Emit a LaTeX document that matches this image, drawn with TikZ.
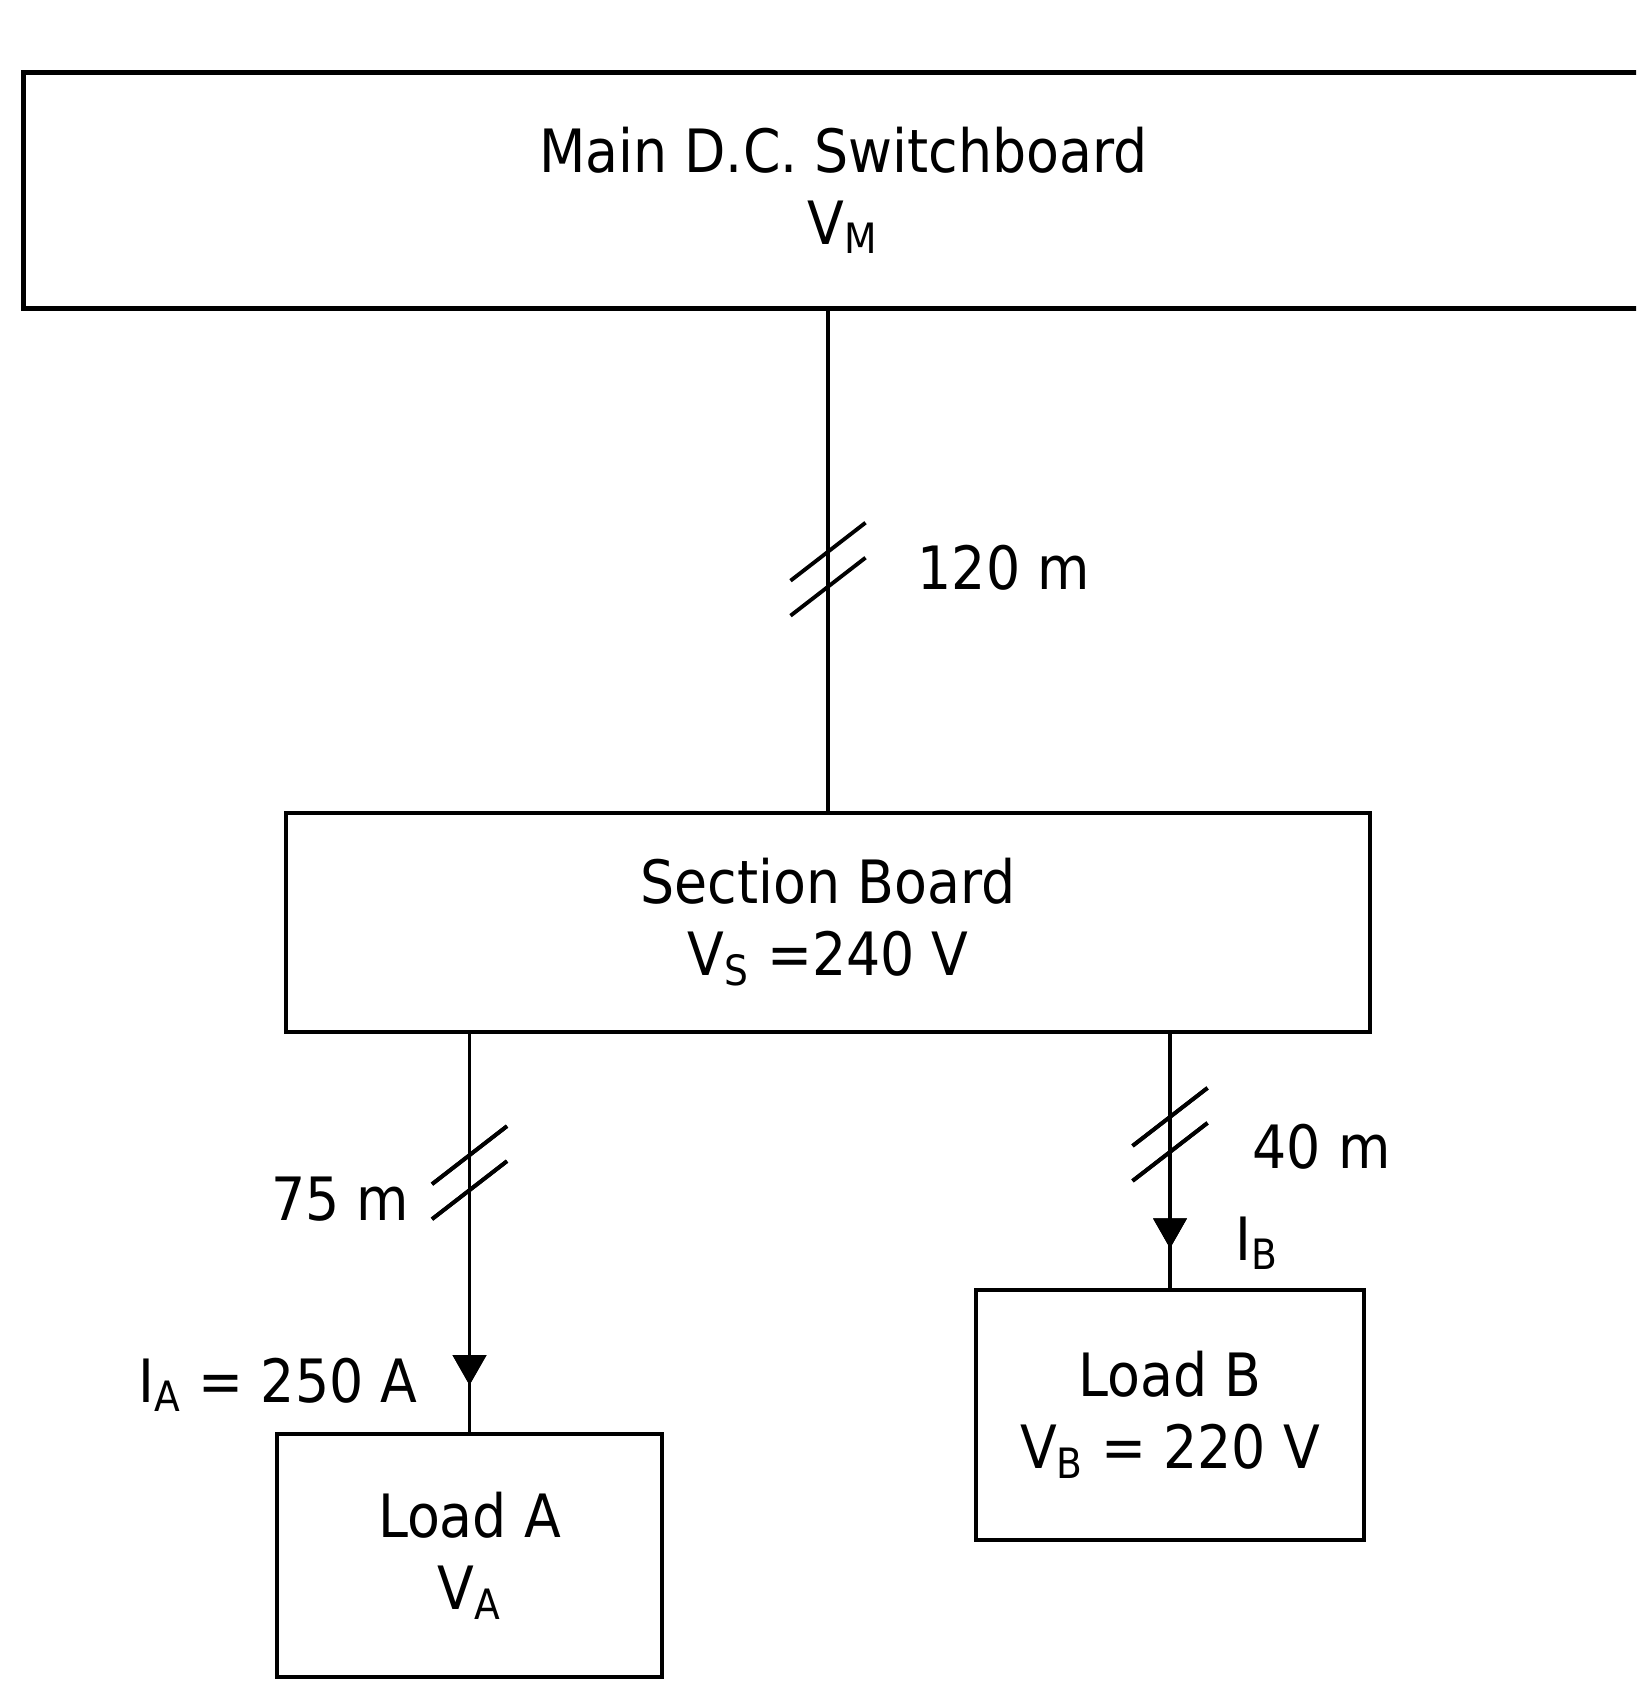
\documentclass[tikz,border=0pt]{standalone}
\usepackage{fontspec}
\setmainfont{DejaVu Sans Condensed}
\usetikzlibrary{arrows.meta, positioning, calc, decorations.markings}

\begin{document}
\begin{tikzpicture}[
  board/.style={draw, line width=1.4pt, align=center,
    font=\fontsize{17}{20.5}\selectfont, inner sep=0pt},
  wire/.style={line width=1.1pt},
  run/.style={postaction={decorate}, decoration={markings,
    mark=at position #1 with {
      \draw[line width=1.1pt] (0.115,-0.375) -- (-0.465,0.375);
      \draw[line width=1.1pt] (0.465,-0.375) -- (-0.115,0.375);}}},
  flow/.style={postaction={decorate}, decoration={markings,
    mark=at position #1 with {\arrow{Triangle[length=0.3cm, width=0.33cm]}}}},
  lbl/.style={font=\fontsize{17}{20.5}\selectfont, inner sep=0pt}
]
  \clip (0,0) rectangle (16.36,-16.81);

  % Boards
  \node[board, minimum width=16.4cm, minimum height=2.36cm,
    anchor=north west] (main) at (0.21,-0.70)
    {Main D.C. Switchboard\\V\textsubscript{M}};
  \node[board, minimum width=10.84cm, minimum height=2.19cm]
    (sec) at (8.28,-9.225) {Section Board\\V\textsubscript{S} =240 V};

  % Loads
  \node[board, minimum width=3.85cm, minimum height=2.43cm]
    (loadA) at (4.695,-15.555) {Load A\\V\textsubscript{A}};
  \node[board, minimum width=3.88cm, minimum height=2.5cm]
    (loadB) at (11.70,-14.15) {Load B\\V\textsubscript{B} = 220 V};

  % Cables
  \draw[wire, run=0.517] (sec.north |- main.south) -- (sec.north);
  \draw[wire, run=0.348, flow=0.883] (loadA.north |- sec.south) -- (loadA.north);
  \draw[wire, run=0.395, flow=0.845] (loadB.north |- sec.south) -- (loadB.north);

  % Lengths and currents
  \node[lbl, anchor=west] (lenM) at (9.17,-5.68) {120 m};
  \node[lbl, anchor=east] (lenA) at (4.10,-11.99) {75 m};
  \node[lbl, anchor=west] (lenB) at (12.52,-11.47) {40 m};
  \node[lbl, anchor=east] (curA) at (4.18,-13.85) {I\textsubscript{A} = 250 A};
  \node[lbl, anchor=west] (curB) at (12.35,-12.43) {I\textsubscript{B}};
\end{tikzpicture}
\end{document}
